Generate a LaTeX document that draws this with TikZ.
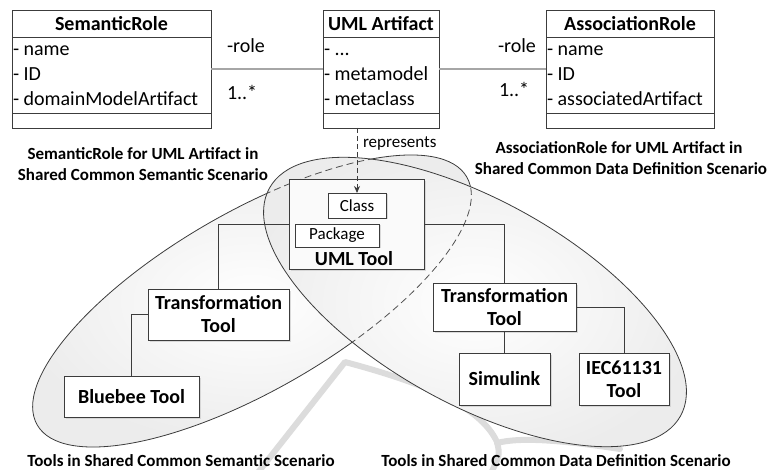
\documentclass[tikz,border=0pt]{standalone}
\usepackage{fontspec}
\setmainfont{Carlito}
\usetikzlibrary{shadows,arrows.meta,calc}

\definecolor{edgecol}{HTML}{3C3C3C}
\definecolor{assoccol}{HTML}{A6A6A6}
\definecolor{markcol}{HTML}{DCDCDC}

\begin{document}
\begin{tikzpicture}[x=1pt,y=-1pt,
  every node/.style={inner sep=0pt, outer sep=0pt},
  rtxt/.style={font=\fontsize{20}{23}\selectfont},
  btxt/.style={font=\fontsize{20}{23}\selectfont\bfseries},
  stxt/.style={font=\fontsize{17}{21}\selectfont},
  captxt/.style={font=\fontsize{17}{21}\selectfont\bfseries, anchor=base},
  classbox/.style={draw=edgecol, line width=0.8pt, fill=white, minimum height=118pt},
  sepline/.style={draw=edgecol, line width=0.8pt},
  assoc/.style={draw=assoccol, line width=1.4pt},
  toolbox/.style={draw=edgecol, line width=0.8pt, fill=white, align=center,
    font=\fontsize{20}{23}\selectfont\bfseries,
    drop shadow={shadow xshift=2pt, shadow yshift=-2pt, fill=gray!40, opacity=0.7}},
  innerbox/.style={draw=edgecol, line width=0.8pt, fill=white,
    font=\fontsize{17}{21}\selectfont,
    drop shadow={shadow xshift=1.5pt, shadow yshift=-1.5pt, fill=gray!40, opacity=0.7}},
  wire/.style={draw=edgecol, line width=0.7pt},
  ellline/.style={draw=edgecol, line width=0.8pt},
  hiddenedge/.style={draw=edgecol!90, line width=0.8pt, dash pattern=on 7pt off 4pt},
  bgmark/.style={draw=markcol, line width=6pt, line cap=round, line join=round}
]
\useasboundingbox (0,0) rectangle (769,470);

% faint mark in the background
\draw[bgmark] (256,475) -- (345,362) .. controls (420,382) and (480,405) .. (497,442)
  .. controls (500,455) .. (490,475);
\draw[bgmark] (497,443) .. controls (520,437) and (560,440) .. (620,449);

% scenario ellipses
\coordinate (cL) at (252,301);
\coordinate (cR) at (475,302);
\path[ellline, inner color=white, outer color=gray!15, rotate around={30:(cL)}]
  (cL) ellipse [x radius=248pt, y radius=89pt];
\path[ellline, inner color=white, outer color=gray!15, rotate around={-29:(cR)}]
  (cR) ellipse [x radius=235pt, y radius=102pt];
\begin{scope}
  \clip[rotate around={-29:(cR)}] (cR) ellipse [x radius=235pt, y radius=102pt];
  \draw[hiddenedge, rotate around={30:(cL)}] (cL) ellipse [x radius=248pt, y radius=89pt];
\end{scope}

% class boxes
\node[classbox, minimum width=199pt] (sem) at (111.5,69) {};
\node[classbox, minimum width=116pt] (art) at (381,69) {};
\node[classbox, minimum width=168pt] (asr) at (630,69) {};
\foreach \b in {sem,art,asr}{
  \draw[sepline] ($(\b.north west)+(0,27)$) -- ($(\b.north east)+(0,27)$);
  \draw[sepline] ($(\b.north west)+(0,103)$) -- ($(\b.north east)+(0,103)$);
}
\node[btxt, anchor=base] (semT) at (111.5,31) {SemanticRole};
\node[rtxt, anchor=base west] (semA1) at (13,56) {- name};
\node[rtxt, anchor=base west] (semA2) at (13,81) {- ID};
\node[rtxt, anchor=base west] (semA3) at (13,106) {- domainModelArtifact};

\node[btxt, anchor=base] (artT) at (381,31) {UML Artifact};
\node[rtxt, anchor=base west] (artA1) at (324,56) {- ...};
\node[rtxt, anchor=base west] (artA2) at (324,81) {- metamodel};
\node[rtxt, anchor=base west] (artA3) at (324,106) {- metaclass};

\node[btxt, anchor=base] (asrT) at (630,31) {AssociationRole};
\node[rtxt, anchor=base west] (asrA1) at (547,56) {- name};
\node[rtxt, anchor=base west] (asrA2) at (547,81) {- ID};
\node[rtxt, anchor=base west] (asrA3) at (547,106) {- associatedArtifact};

% associations
\draw[assoc] (sem.east) -- (art.west);
\draw[assoc] (art.east) -- (asr.west);
\node[rtxt, anchor=base west] (r1) at (227,53) {-role};
\node[rtxt, anchor=base west] (m1) at (227,100) {1..*};
\node[rtxt, anchor=base west] (r2) at (498,53) {-role};
\node[rtxt, anchor=base west] (m2) at (499,97) {1..*};

% captions
\node[captxt] (c1a) at (143,160) {SemanticRole for UML Artifact in};
\node[captxt] (c1b) at (143,181) {Shared Common Semantic Scenario};
\node[captxt] (c2a) at (619,154) {AssociationRole for UML Artifact in};
\node[captxt] (c2b) at (621,175) {Shared Common Data Definition Scenario};
\node[captxt] (c3) at (181,467) {Tools in Shared Common Semantic Scenario};
\node[captxt] (c4) at (556,467) {Tools in Shared Common Data Definition Scenario};

% tools
\node[toolbox, fill=gray!4, minimum width=135pt, minimum height=90pt] (uml) at (356.5,224) {};
\node[innerbox, minimum width=58pt, minimum height=25pt] (cls) at (357,205.5) {Class};
\node[innerbox, minimum width=84pt, minimum height=23pt] (pkg) at (337,235.5) {Package};
\node[btxt, anchor=base] (umlT) at (354,266) {UML Tool};

\node[toolbox, minimum width=141pt, minimum height=51pt] (ttl) at (218.5,314.5) {Transformation\\Tool};
\node[toolbox, minimum width=135pt, minimum height=41pt] (blue) at (131.5,396.5) {Bluebee Tool};
\node[toolbox, minimum width=143pt, minimum height=48pt] (ttr) at (504.5,307) {Transformation\\Tool};
\node[toolbox, minimum width=91pt, minimum height=52pt] (sim) at (504.5,379) {Simulink};
\node[toolbox, minimum width=90pt, minimum height=52pt] (iec) at (624,379) {IEC61131\\Tool};

\draw[wire] (uml.west) -| (ttl.north);
\draw[wire] (ttl.west) -| (blue.north);
\draw[wire] (uml.east) -| (ttr.north);
\draw[wire] (ttr.south) -- (sim.north);
\draw[wire] (ttr.east) -| (iec.north);

% represents dependency
\draw[edgecol, line width=0.8pt, dash pattern=on 5pt off 3pt, -{Stealth[length=7pt,width=6pt]}]
  (cls.north |- art.south) -- (cls.north);
\node[stxt, anchor=base west] (rep) at (363,148) {represents};
\end{tikzpicture}
\end{document}
